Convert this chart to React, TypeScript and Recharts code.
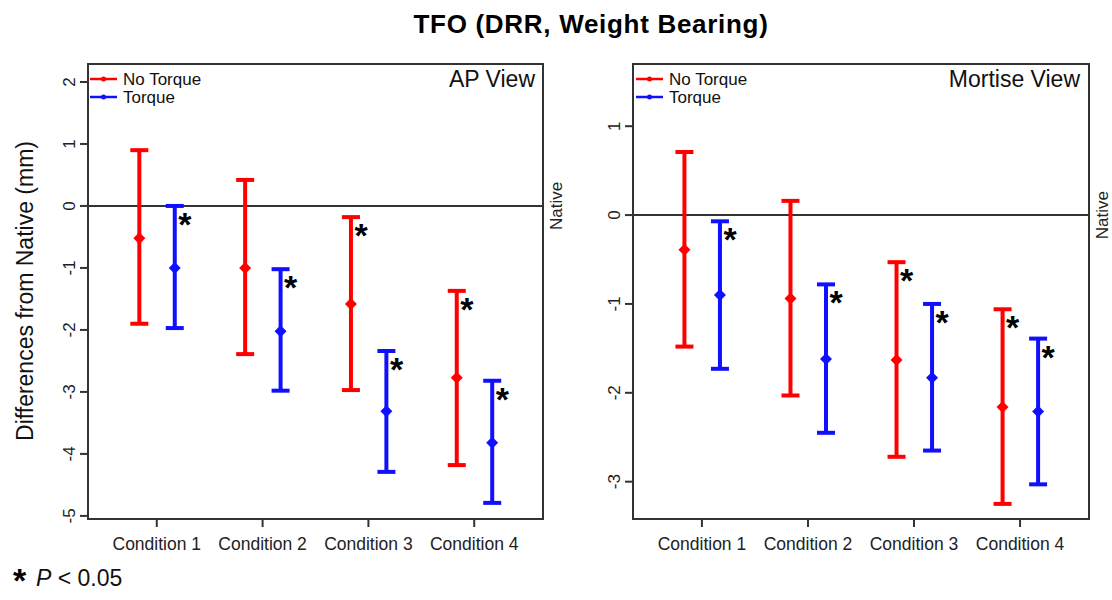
import React from "react";
import {
  ComposedChart,
  Scatter,
  ErrorBar,
  XAxis,
  YAxis,
  ReferenceLine,
  ReferenceArea,
} from "recharts";

const FONT = "'Liberation Sans', Arial, sans-serif";
const RED = "#ff0000";
const BLUE = "#1010ff";

const conditions = ["Condition 1", "Condition 2", "Condition 3", "Condition 4"];
const seriesNames = ["No Torque", "Torque"];

// AP view
const apNoTorqueMean = [-0.52, -1.0, -1.58, -2.77];
const apNoTorqueLow = [-1.9, -2.39, -2.97, -4.18];
const apNoTorqueHigh = [0.9, 0.42, -0.18, -1.37];
const apNoTorqueSig = [false, false, true, true];
const apTorqueMean = [-1.0, -2.02, -3.31, -3.82];
const apTorqueLow = [-1.97, -2.98, -4.29, -4.79];
const apTorqueHigh = [0.0, -1.02, -2.34, -2.82];
const apTorqueSig = [true, true, true, true];
const apTicks = [-5, -4, -3, -2, -1, 0, 1, 2];
const apDomain = [-5.05, 2.29];

// Mortise view
const mortNoTorqueMean = [-0.39, -0.94, -1.63, -2.16];
const mortNoTorqueLow = [-1.48, -2.03, -2.72, -3.25];
const mortNoTorqueHigh = [0.71, 0.16, -0.53, -1.06];
const mortNoTorqueSig = [false, false, true, true];
const mortTorqueMean = [-0.9, -1.62, -1.83, -2.21];
const mortTorqueLow = [-1.73, -2.45, -2.65, -3.03];
const mortTorqueHigh = [-0.07, -0.78, -1.0, -1.39];
const mortTorqueSig = [true, true, true, true];
const mortTicks = [-3, -2, -1, 0, 1];
const mortDomain = [-3.42, 1.7];

const xDomain = [0.35, 4.65];
const xTicks = [1, 2, 3, 4];
const offsets = [-0.165, 0.17];

function buildPoints(mean: number[], low: number[], high: number[], off: number) {
  return mean.map((m, i) => ({
    x: i + 1 + off,
    y: m,
    err: [m - low[i], high[i] - m],
  }));
}

function buildStars(high: number[], sig: boolean[], off: number) {
  return high
    .map((h, i) => ({ x: i + 1 + off, y: h, sig: sig[i] }))
    .filter((p) => p.sig);
}

const Diamond = (color: string) => (props: any) => {
  const { cx, cy } = props;
  const r = 6;
  return (
    <polygon
      points={`${cx},${cy - r} ${cx + r},${cy} ${cx},${cy + r} ${cx - r},${cy}`}
      fill={color}
    />
  );
};

const Star = (props: any) => {
  const { cx, cy } = props;
  return (
    <text x={cx + 3.5} y={cy + 30} fontSize={34} fontWeight="bold" fontFamily={FONT} fill="#000">
      *
    </text>
  );
};

const YTick = (props: any) => {
  const { x, y, payload } = props;
  return (
    <text
      x={x}
      y={y}
      transform={`rotate(-90 ${x} ${y})`}
      textAnchor="middle"
      fontSize={17}
      fontFamily={FONT}
      fill="#222"
    >
      {payload.value}
    </text>
  );
};

const NativeTick = (props: any) => {
  const { x, y } = props;
  const tx = x + 19;
  return (
    <text
      x={tx}
      y={y}
      transform={`rotate(-90 ${tx} ${y})`}
      textAnchor="middle"
      fontSize={17}
      fontFamily={FONT}
      fill="#222"
    >
      Native
    </text>
  );
};

const XTick = (props: any) => {
  const { x, y, payload } = props;
  return (
    <text x={x} y={y + 12} textAnchor="middle" fontSize={17.5} fontFamily={FONT} fill="#222">
      {conditions[payload.value - 1]}
    </text>
  );
};

// legend drawn in the overlay, one per panel
const LegendGroup = ({ x, y }: { x: number; y: number }) => (
  <g>
    {seriesNames.map((name, i) => {
      const color = i === 0 ? RED : BLUE;
      const ly = y + i * 18;
      return (
        <g key={name}>
          <line x1={x} y1={ly} x2={x + 27} y2={ly} stroke={color} strokeWidth={2.5} />
          <circle cx={x + 13.5} cy={ly} r={2.5} fill={color} />
          <text x={x + 33} y={ly + 6} fontSize={17} fill="#111">
            {name}
          </text>
        </g>
      );
    })}
  </g>
);

interface PanelProps {
  left: number;
  width: number;
  nativeWidth: number;
  rightMargin: number;
  domain: number[];
  ticks: number[];
  noTorque: { mean: number[]; low: number[]; high: number[]; sig: boolean[] };
  torque: { mean: number[]; low: number[]; high: number[]; sig: boolean[] };
}

function Panel({ left, width, nativeWidth, rightMargin, domain, ticks, noTorque, torque }: PanelProps) {
  const redPts = buildPoints(noTorque.mean, noTorque.low, noTorque.high, offsets[0]);
  const bluePts = buildPoints(torque.mean, torque.low, torque.high, offsets[1]);
  const stars = [
    ...buildStars(noTorque.high, noTorque.sig, offsets[0]),
    ...buildStars(torque.high, torque.sig, offsets[1]),
  ];
  return (
    <div style={{ position: "absolute", left, top: 0 }}>
      <ComposedChart
        width={width}
        height={600}
        margin={{ top: 64, left: 48, right: rightMargin, bottom: 41 }}
      >
        <XAxis
          dataKey="x"
          type="number"
          domain={xDomain}
          ticks={xTicks}
          allowDataOverflow
          axisLine={false}
          tickLine={{ stroke: "#333", strokeWidth: 2 }}
          tickSize={8}
          tickMargin={11}
          height={40}
          tick={<XTick />}
        />
        <YAxis
          dataKey="y"
          type="number"
          domain={domain}
          ticks={ticks}
          allowDataOverflow
          axisLine={false}
          tickLine={{ stroke: "#333", strokeWidth: 2 }}
          tickSize={8}
          tickMargin={5}
          width={40}
          tick={<YTick />}
        />
        <YAxis
          yAxisId="native"
          orientation="right"
          type="number"
          domain={domain}
          ticks={[0]}
          allowDataOverflow
          axisLine={false}
          tickLine={false}
          tickSize={0}
          tickMargin={0}
          width={nativeWidth}
          tick={<NativeTick />}
        />
        <ReferenceArea
          x1={xDomain[0]}
          x2={xDomain[1]}
          y1={domain[0]}
          y2={domain[1]}
          fill="none"
          stroke="#333"
          strokeWidth={2}
          ifOverflow="visible"
        />
        <ReferenceLine y={0} stroke="#333" strokeWidth={2} />
        <Scatter
          name={seriesNames[0]}
          data={redPts}
          fill={RED}
          shape={Diamond(RED)}
          isAnimationActive={false}
        >
          <ErrorBar dataKey="err" direction="y" width={9} stroke={RED} strokeWidth={4} isAnimationActive={false} />
        </Scatter>
        <Scatter
          name={seriesNames[1]}
          data={bluePts}
          fill={BLUE}
          shape={Diamond(BLUE)}
          isAnimationActive={false}
        >
          <ErrorBar dataKey="err" direction="y" width={9} stroke={BLUE} strokeWidth={4} isAnimationActive={false} />
        </Scatter>
        <Scatter name="sig" data={stars} shape={Star} legendType="none" isAnimationActive={false} />
      </ComposedChart>
    </div>
  );
}

export default function App() {
  return (
    <div style={{ position: "absolute", left: 0, top: 0, width: 1112, height: 600, background: "#fff" }}>
      <Panel
        left={0}
        width={600}
        nativeWidth={30}
        rightMargin={27}
        domain={apDomain}
        ticks={apTicks}
        noTorque={{ mean: apNoTorqueMean, low: apNoTorqueLow, high: apNoTorqueHigh, sig: apNoTorqueSig }}
        torque={{ mean: apTorqueMean, low: apTorqueLow, high: apTorqueHigh, sig: apTorqueSig }}
      />
      <Panel
        left={545}
        width={567}
        nativeWidth={20}
        rightMargin={3}
        domain={mortDomain}
        ticks={mortTicks}
        noTorque={{ mean: mortNoTorqueMean, low: mortNoTorqueLow, high: mortNoTorqueHigh, sig: mortNoTorqueSig }}
        torque={{ mean: mortTorqueMean, low: mortTorqueLow, high: mortTorqueHigh, sig: mortTorqueSig }}
      />
      <svg
        width={1112}
        height={600}
        style={{ position: "absolute", left: 0, top: 0, pointerEvents: "none" }}
        fontFamily={FONT}
      >
        <text x={591} y={33} textAnchor="middle" fontSize={26} fontWeight="bold" letterSpacing={0.7} fill="#000">
          TFO (DRR, Weight Bearing)
        </text>
        <text
          x={33}
          y={291}
          transform="rotate(-90 33 291)"
          textAnchor="middle"
          fontSize={23}
          fill="#111"
        >
          Differences from Native (mm)
        </text>
        <LegendGroup x={90} y={79} />
        <LegendGroup x={636} y={79} />
        <text x={535} y={87} textAnchor="end" fontSize={23} fill="#111">
          AP View
        </text>
        <text x={1080} y={87} textAnchor="end" fontSize={23} fill="#111">
          Mortise View
        </text>
        <text x={13} y={592} fontSize={34} fontWeight="bold" fill="#000">
          *
        </text>
        <text x={36} y={586} fontSize={23} fill="#111">
          <tspan fontStyle="italic">P</tspan>
          <tspan> &lt; 0.05</tspan>
        </text>
      </svg>
    </div>
  );
}
